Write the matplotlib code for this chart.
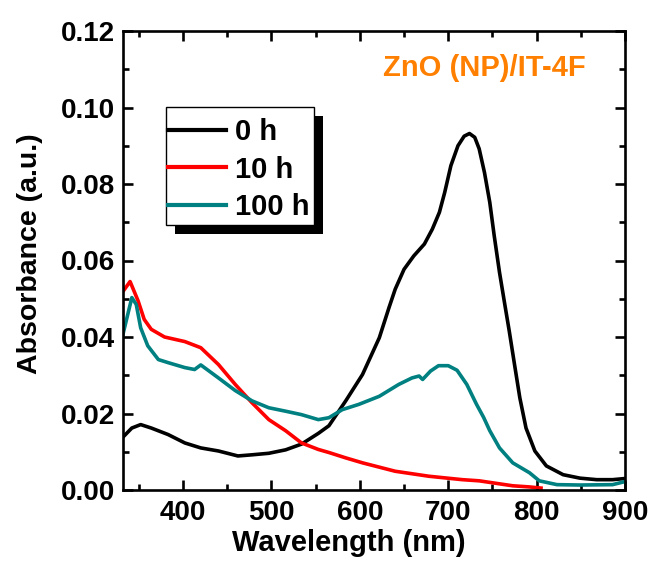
import matplotlib
matplotlib.use("Agg")
import matplotlib.pyplot as plt
from matplotlib.patches import Rectangle
from matplotlib.ticker import MultipleLocator

plt.rcParams['font.family'] = ['Liberation Sans', 'DejaVu Sans']
plt.rcParams['font.weight'] = 'bold'

# 0 h
wl_0h = [331, 342, 352, 364, 383, 402, 420, 440, 462, 478, 497, 516, 534, 553, 565,
         584, 603, 622, 633, 640, 650, 661, 673, 682, 690, 696, 703, 711, 718, 724,
         730, 735, 741, 747, 752, 758, 764, 769, 775, 781, 788, 798, 811, 830, 849,
         868, 886, 900]
abs_0h = [0.0136, 0.0162, 0.0171, 0.0162, 0.0145, 0.0123, 0.0110, 0.0102, 0.0089, 0.0092,
          0.0096, 0.0105, 0.0120, 0.0148, 0.0168, 0.0233, 0.0302, 0.0398, 0.0477, 0.0525,
          0.0577, 0.0612, 0.0643, 0.0682, 0.0726, 0.0778, 0.0848, 0.0900, 0.0925, 0.0932,
          0.0922, 0.0892, 0.0830, 0.0752, 0.0665, 0.0569, 0.0485, 0.0416, 0.0328, 0.0241,
          0.0162, 0.0102, 0.0063, 0.0040, 0.0031, 0.0027, 0.0027, 0.0030]

# 10 h
wl_10h = [331, 340, 349, 356, 364, 379, 402, 420, 440, 459, 478, 497, 516, 534, 553,
          565, 584, 603, 640, 678, 716, 735, 773, 792, 805]
abs_10h = [0.0516, 0.0545, 0.0495, 0.0446, 0.0420, 0.0400, 0.0388, 0.0372, 0.0328, 0.0276,
           0.0228, 0.0184, 0.0155, 0.0123, 0.0106, 0.0098, 0.0084, 0.0071, 0.0049, 0.0036,
           0.0027, 0.0024, 0.0011, 0.0008, 0.0005]

# 100 h
wl_100h = [331, 342, 347, 352, 360, 372, 383, 402, 413, 420, 440, 459, 478, 497, 516,
           534, 553, 565, 580, 599, 622, 644, 659, 667, 671, 680, 689, 700, 710, 721,
           732, 740, 747, 758, 773, 792, 803, 823, 849, 886, 900]
abs_100h = [0.0398, 0.0503, 0.0485, 0.0424, 0.0377, 0.0341, 0.0333, 0.0320, 0.0315, 0.0327,
            0.0293, 0.0260, 0.0233, 0.0215, 0.0206, 0.0197, 0.0184, 0.0189, 0.0210, 0.0224,
            0.0245, 0.0276, 0.0293, 0.0298, 0.0289, 0.0311, 0.0325, 0.0325, 0.0313, 0.0276,
            0.0224, 0.0190, 0.0155, 0.0110, 0.0071, 0.0045, 0.0024, 0.0014, 0.0013, 0.0014,
            0.0022]

labels = ['0 h', '10 h', '100 h']
colors = ['#000000', '#FF0000', '#008080']
title_text = 'ZnO (NP)/IT-4F'

W, H = 651, 570
fig = plt.figure(figsize=(W/100, H/100), dpi=100)
L, R, T, B = 123, 625, 31, 490
ax = fig.add_axes([L/W, 1-B/H, (R-L)/W, (B-T)/H])

for x, y, lab, c in zip([wl_0h, wl_10h, wl_100h], [abs_0h, abs_10h, abs_100h], labels, colors):
    ax.plot(x, y, color=c, lw=2.6, label=lab)

ax.set_xlim(332, 900)
ax.set_ylim(0, 0.12)
ax.xaxis.set_major_locator(MultipleLocator(100))
ax.xaxis.set_minor_locator(MultipleLocator(50))
ax.yaxis.set_major_locator(MultipleLocator(0.02))
ax.yaxis.set_minor_locator(MultipleLocator(0.01))
ax.yaxis.set_major_formatter(plt.FuncFormatter(lambda v, p: f"{v:.2f}"))

for s in ax.spines.values():
    s.set_linewidth(1.9)
ax.tick_params(which='both', direction='in', top=True, right=True, width=1.9)
ax.tick_params(which='major', length=7, labelsize=20)
ax.tick_params(axis='x', which='major', pad=7)
ax.tick_params(axis='y', which='major', pad=6)
ax.tick_params(which='minor', length=4)
for t in ax.get_xticklabels() + ax.get_yticklabels():
    t.set_fontweight('bold')

ax.set_xlabel('Wavelength (nm)', fontsize=21, fontweight='bold', labelpad=8)
ax.xaxis.set_label_coords(0.45, -0.085)
ax.xaxis.label.set_va('top')
ax.set_ylabel('Absorbance (a.u.)', fontsize=20.5, fontweight='bold')
ax.yaxis.set_label_coords(-0.16, 0.515)

ax.text(0.72, 0.92, title_text, transform=ax.transAxes, color='#FF8000',
        fontsize=21, fontweight='bold', ha='center', va='center')

# legend box with shadow (pixel geometry of the reference box)
bx0, bx1, by0, by1 = 166, 314, 107, 225
def ax_frac(px, py):
    return (px - L) / (R - L), (B - py) / (B - T)
x0, y0 = ax_frac(bx0, by1)
x1, y1 = ax_frac(bx1, by0)
sx, sy = 9 / (R - L), 9 / (B - T)
ax.add_patch(Rectangle((x0 + sx, y0 - sy), x1 - x0, y1 - y0, transform=ax.transAxes,
                       facecolor='black', edgecolor='none', zorder=8, clip_on=False))
ax.add_patch(Rectangle((x0, y0), x1 - x0, y1 - y0, transform=ax.transAxes,
                       facecolor='white', edgecolor='black', lw=1.0, zorder=9, clip_on=False))

ax_x, ax_y = ax_frac(168, 118)
leg = ax.legend(loc='upper left', bbox_to_anchor=(ax_x, ax_y), fontsize=21,
                frameon=False, handlelength=2.0, handletextpad=0.3, borderpad=0,
                labelspacing=0.33, borderaxespad=0)
for t in leg.get_texts():
    t.set_fontweight('bold')
for ln in leg.get_lines():
    ln.set_linewidth(3)
leg.set_zorder(10)

fig.savefig('out.png', dpi=100)
